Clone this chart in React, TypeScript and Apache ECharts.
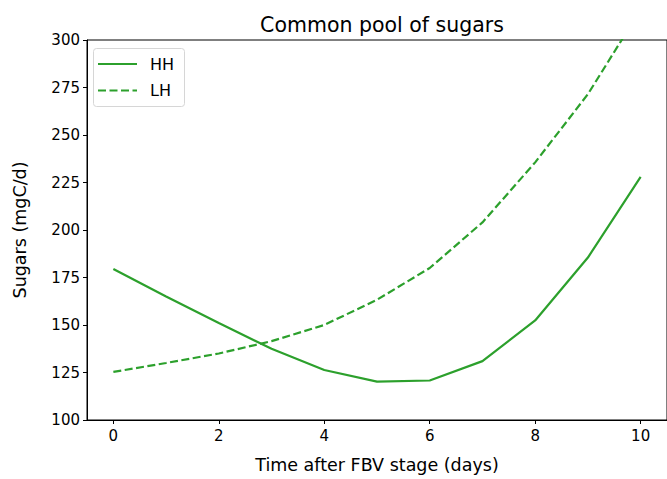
import React, { useEffect, useRef } from "react";
import * as echarts from "echarts";

const days = [0, 1, 2, 3, 4, 5, 6, 7, 8, 9, 10];
const hhValues = [179.5, 165, 151, 137.5, 126.3, 120.2, 120.8, 131, 152.4, 185.5, 228];
const lhValues = [125.3, 130, 135, 141.5, 150, 163.3, 180, 204, 235.6, 271.5, 316];
const xTicks = [0, 2, 4, 6, 8, 10];
const yTicks = [100, 125, 150, 175, 200, 225, 250, 275, 300];
const seriesNames = ["HH", "LH"];

const GREEN = "#2ca02c";
const FONT = "DejaVu Sans";
const DASH = [8, 3.5];

export default function App() {
  const ref = useRef<HTMLDivElement>(null);
  useEffect(() => {
    if (!ref.current) return;
    const chart = echarts.init(ref.current, null, { renderer: "svg" });
    chart.setOption({
      animation: false,
      backgroundColor: "#fff",
      textStyle: { fontFamily: FONT },
      title: {
        text: "Common pool of sugars",
        left: 377,
        top: 9,
        textAlign: "center",
        textStyle: { fontFamily: FONT, fontSize: 20.5, fontWeight: "normal", color: "#000" },
      },
      graphic: [
        {
          type: "rect",
          shape: { x: 93.5, y: 48.5, width: 91, height: 58, r: 3 },
          style: { fill: "rgba(255,255,255,0.8)", stroke: "#d6d6d6", lineWidth: 1 },
          z: 100,
        },
        {
          type: "line",
          shape: { x1: 98, y1: 64, x2: 137, y2: 64 },
          style: { stroke: GREEN, lineWidth: 2.2 },
          z: 101,
        },
        {
          type: "line",
          shape: { x1: 98, y1: 90.5, x2: 137, y2: 90.5 },
          style: { stroke: GREEN, lineWidth: 2.2, lineDash: DASH },
          z: 101,
        },
        {
          type: "text",
          x: 150,
          y: 64,
          style: { text: seriesNames[0], font: `16px ${FONT}`, fill: "#000", textVerticalAlign: "middle" },
          z: 101,
        },
        {
          type: "text",
          x: 150,
          y: 90.5,
          style: { text: seriesNames[1], font: `16px ${FONT}`, fill: "#000", textVerticalAlign: "middle" },
          z: 101,
        },
      ],
      grid: { left: 87, top: 40, right: -5, bottom: 56, show: true, borderColor: "#000", borderWidth: 1 },
      xAxis: {
        type: "value",
        min: -0.5,
        max: 10.5,
        name: "Time after FBV stage (days)",
        nameLocation: "middle",
        nameGap: 36,
        nameTextStyle: { fontFamily: FONT, fontSize: 17.5, color: "#000" },
        axisLine: { show: true, onZero: false, lineStyle: { color: "#000", width: 1 } },
        axisTick: { show: true, inside: false, length: 4, customValues: xTicks, lineStyle: { color: "#000" } },
        axisLabel: { customValues: xTicks, fontFamily: FONT, fontSize: 15, color: "#000", margin: 8 },
        splitLine: { show: false },
      },
      yAxis: {
        type: "value",
        min: 100,
        max: 300,
        interval: 25,
        name: "Sugars (mgC/d)",
        nameLocation: "middle",
        nameGap: 58,
        nameTextStyle: { fontFamily: FONT, fontSize: 17.5, color: "#000" },
        axisLine: { show: true, onZero: false, lineStyle: { color: "#000", width: 1 } },
        axisTick: { show: true, inside: false, length: 4, lineStyle: { color: "#000" } },
        axisLabel: { customValues: yTicks, fontFamily: FONT, fontSize: 15, color: "#000", margin: 7 },
        splitLine: { show: false },
      },
      series: [
        {
          name: seriesNames[0],
          type: "line",
          data: days.map((d, i) => [d, hhValues[i]]),
          symbol: "none",
          clip: true,
          color: GREEN,
          lineStyle: { color: GREEN, width: 2.2, type: "solid" },
        },
        {
          name: seriesNames[1],
          type: "line",
          data: days.map((d, i) => [d, lhValues[i]]),
          symbol: "none",
          clip: true,
          color: GREEN,
          lineStyle: { color: GREEN, width: 2.2, type: DASH },
        },
      ],
    });
    return () => chart.dispose();
  }, []);
  return <div ref={ref} style={{ width: 667, height: 479, position: "absolute", left: 0, top: 0 }} />;
}
